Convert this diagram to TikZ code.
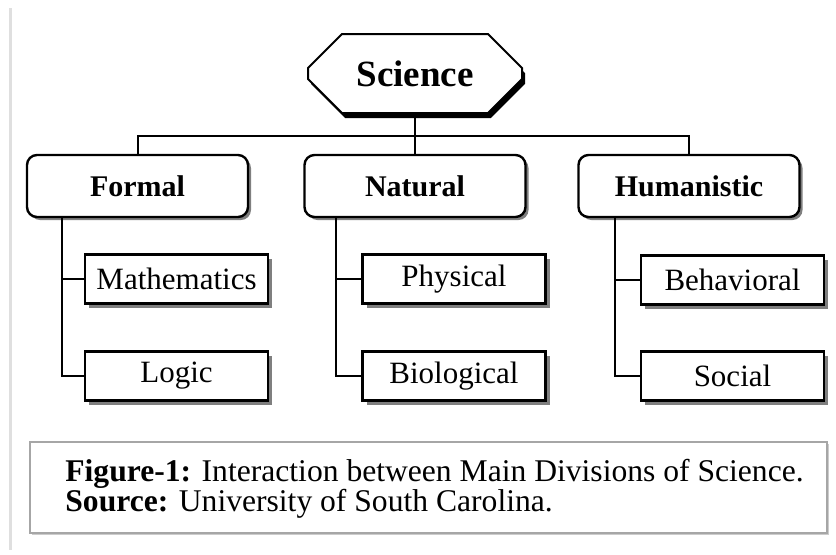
\documentclass[tikz,border=0pt]{standalone}
\usepackage{fontspec}
\setmainfont{Liberation Serif}
\usetikzlibrary{shapes.misc,shadows}

\tikzset{
  sciencebox/.style={shape=chamfered rectangle, chamfered rectangle xsep=12.5pt,
    chamfered rectangle ysep=10.5pt, draw, line width=1pt, fill=white,
    minimum width=107pt, minimum height=39.5pt, inner sep=0pt,
    font=\fontsize{18.5}{20}\selectfont\bfseries,
    drop shadow={shadow xshift=1.5pt, shadow yshift=-2.5pt, fill=black, opacity=1}},
  divbox/.style={draw, line width=1.2pt, rounded corners=5pt, fill=white,
    minimum width=110.5pt, minimum height=31pt, inner sep=0pt,
    font=\fontsize{15}{17}\selectfont\bfseries,
    drop shadow={shadow xshift=1.5pt, shadow yshift=-1.5pt, fill=black, opacity=0.5}},
  leafbox/.style={draw, line width=1.2pt, fill=white,
    minimum width=91.5pt, minimum height=24.5pt, inner sep=0pt,
    font=\fontsize{15.5}{17}\selectfont,
    drop shadow={shadow xshift=2pt, shadow yshift=-2pt, fill=black, opacity=0.5}},
  captionbox/.style={draw=gray!70, line width=0.7pt, fill=white,
    minimum width=398.5pt, minimum height=45.5pt, inner sep=0pt,
    drop shadow={shadow xshift=1pt, shadow yshift=-1pt, fill=black, opacity=0.2}},
  captiontext/.style={anchor=west, align=left, inner sep=0pt,
    font=\fontsize{15.8}{15.2}\selectfont},
  link/.style={line width=1pt}
}

\begin{document}
\begin{tikzpicture}[x=0.5pt,y=-0.5pt]
\useasboundingbox (0,0) rectangle (836,554);
\draw[gray!25, line width=1.5pt] (10,8) -- (10,550);

% top of the tree
\node[sciencebox] (sci) at (415,73.5) {Science};
\node[divbox] (form) at (137.5,186) {Formal};
\node[divbox] (nat) at (415,186) {Natural};
\node[divbox] (hum) at (689,186) {Humanistic};

% leaves
\node[leafbox] (math) at (176.5,279) {Mathematics};
\node[leafbox] (logic) at (176.5,376) {Logic};
\node[leafbox] (phys) at (454,279) {Physical};
\node[leafbox] (bio) at (454,376) {Biological};
\node[leafbox] (behav) at (732.5,280) {Behavioral};
\node[leafbox] (social) at (732.5,376) {Social};

% connectors
\coordinate (bus) at (415,136);
\draw[link] (sci.south) -- (nat.north);
\draw[link] (form.north) |- (bus) -| (hum.north);

\draw[link] (form.south west) ++(36,0) coordinate (fb) |- (logic.west);
\draw[link] (math.west) -- (math.west -| fb);
\draw[link] (nat.south west) ++(33,0) coordinate (nb) |- (bio.west);
\draw[link] (phys.west) -- (phys.west -| nb);
\draw[link] (hum.south west) ++(38,0) coordinate (hb) |- (social.west);
\draw[link] (behav.west) -- (behav.west -| hb);

% caption
\node[captionbox] (cap) at (428.5,487.5) {};
\node[captiontext] (captxt) at (65,489)
  {\textbf{Figure-1:} Interaction between Main Divisions of Science.\\
   \textbf{Source:} University of South Carolina.};
\end{tikzpicture}
\end{document}
